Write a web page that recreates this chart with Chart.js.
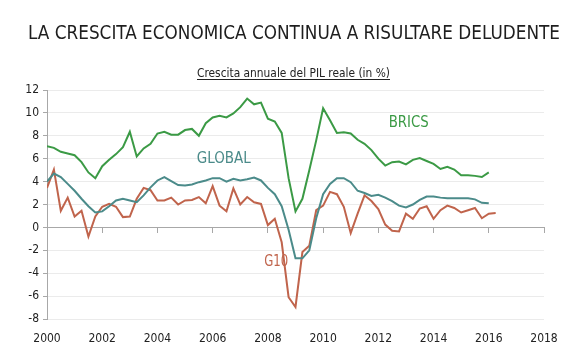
<!DOCTYPE html>
<html>
<head>
<meta charset="utf-8">
<script src="https://cdn.jsdelivr.net/npm/chart.js@4"></script>
<style>
  html, body { margin: 0; padding: 0; background: #fff; }
  #wrap { width: 585px; height: 360px; }
</style>
</head>
<body>
<div id="wrap"><canvas id="gdpChart" width="585" height="360"></canvas></div>
<script>
// Quarterly real GDP growth (%), 2000Q1 onwards
const quarters = Array.from({length: 66}, (_, i) => 2000 + i / 4);

const brics = [
    7.1, 6.95, 6.6, 6.45,
    6.3, 5.7, 4.8, 4.3,
    5.35, 5.9, 6.4, 7.0,
    8.35, 6.2, 6.9, 7.3,
    8.2, 8.35, 8.1, 8.1,
    8.5, 8.6, 8.0, 9.1,
    9.6, 9.75, 9.6, 9.95,
    10.5, 11.25, 10.75, 10.9,
    9.5, 9.25, 8.25, 4.3,
    1.4, 2.5, 5.0, 7.6,
    10.4, 9.35, 8.25, 8.3,
    8.2, 7.65, 7.3, 6.75,
    6.0, 5.4, 5.7, 5.75,
    5.5, 5.9, 6.05, 5.8,
    5.55, 5.1, 5.3, 5.05,
    4.55, 4.55, 4.5, 4.4,
    4.8
];

const global = [
    4.0, 4.7, 4.4, 3.8,
    3.2, 2.5, 1.85, 1.3,
    1.4, 1.85, 2.35, 2.5,
    2.35, 2.2, 2.8, 3.5,
    4.1, 4.4, 4.05, 3.7,
    3.65, 3.75, 3.95, 4.1,
    4.3, 4.3, 4.0, 4.25,
    4.1, 4.2, 4.35, 4.1,
    3.45, 2.9, 1.85, -0.2,
    -2.7, -2.7, -2.0, 0.8,
    2.9, 3.8, 4.3, 4.3,
    3.95, 3.2, 3.0, 2.75,
    2.85, 2.6, 2.3, 1.9,
    1.75, 2.0, 2.4, 2.7,
    2.7, 2.6, 2.55, 2.55,
    2.55, 2.55, 2.45, 2.15,
    2.1
];

const g10 = [
    3.45, 5.05, 1.45, 2.6,
    0.95, 1.45, -0.8, 0.95,
    1.8, 2.05, 1.8, 0.9,
    0.95, 2.5, 3.45, 3.25,
    2.35, 2.35, 2.6, 2.0,
    2.35, 2.4, 2.65, 2.1,
    3.6, 1.9, 1.4, 3.4,
    2.0, 2.65, 2.2, 2.05,
    0.2, 0.75, -1.3, -6.1,
    -6.95, -2.15, -1.6, 1.5,
    1.9, 3.1, 2.9, 1.8,
    -0.5, 1.2, 2.8, 2.3,
    1.6, 0.25, -0.3, -0.35,
    1.2, 0.75, 1.65, 1.85,
    0.75, 1.5, 1.9, 1.7,
    1.3, 1.5, 1.7, 0.8,
    1.2, 1.25
];

const yearTicks = [2000, 2002, 2004, 2006, 2008, 2010, 2012, 2014, 2016, 2018];

const colors = { BRICS: '#3b9a45', GLOBAL: '#4b8b8a', G10: '#c0644c' };
const family = "'DejaVu Sans Condensed', 'Liberation Sans Narrow', 'DejaVu Sans', sans-serif";

const titleText = 'LA CRESCITA ECONOMICA CONTINUA A RISULTARE DELUDENTE';
const subtitleText = 'Crescita annuale del PIL reale (in %)';

// where the series names sit, in data coordinates
const seriesLabels = [
    { text: 'BRICS', x: 2013.1, y: 9.1, width: 40 },
    { text: 'GLOBAL', x: 2006.4, y: 6.0, width: 54 },
    { text: 'G10', x: 2008.3, y: -3.05, width: 24 }
];

function toPoints(values) {
    return values.map((v, i) => ({ x: quarters[i], y: v }));
}

// draw centred text squeezed to a given width (the original uses a condensed face)
function squeezedText(ctx, text, x, y, width) {
    const w = ctx.measureText(text).width;
    const k = Math.min(1, width / w);
    ctx.save();
    ctx.translate(x, y);
    ctx.scale(k, 1);
    ctx.fillText(text, 0, 0);
    ctx.restore();
    return w * k;
}

// Titles and in-chart series names
const textPlugin = {
    id: 'textPlugin',
    afterDraw(chart) {
        const ctx = chart.ctx;
        ctx.save();
        ctx.fillStyle = '#1e1e1e';
        ctx.textAlign = 'center';
        ctx.textBaseline = 'alphabetic';
        ctx.font = '20px ' + family;
        squeezedText(ctx, titleText, 294, 39, 532);

        ctx.font = '13px ' + family;
        ctx.fillStyle = '#222';
        const w = squeezedText(ctx, subtitleText, 293.5, 77, 193);
        ctx.strokeStyle = '#222';
        ctx.lineWidth = 1;
        ctx.beginPath();
        ctx.moveTo(293.5 - w / 2, 79.5);
        ctx.lineTo(293.5 + w / 2, 79.5);
        ctx.stroke();

        const xs = chart.scales.x, ys = chart.scales.y;
        ctx.font = '16px ' + family;
        ctx.textBaseline = 'middle';
        seriesLabels.forEach(l => {
            ctx.fillStyle = colors[l.text];
            squeezedText(ctx, l.text, xs.getPixelForValue(l.x), ys.getPixelForValue(l.y), l.width);
        });
        ctx.restore();
    }
};

const tickFont = { family: family, size: 12, style: 'condensed' };

const ctx = document.getElementById('gdpChart').getContext('2d');
const chart = new Chart(ctx, {
    type: 'line',
    data: {
        datasets: [
            { label: 'BRICS', data: toPoints(brics), borderColor: colors.BRICS },
            { label: 'GLOBAL', data: toPoints(global), borderColor: colors.GLOBAL },
            { label: 'G10', data: toPoints(g10), borderColor: colors.G10 }
        ].map(d => Object.assign(d, {
            borderWidth: 2,
            pointRadius: 0,
            tension: 0,
            fill: false,
            xAxisID: 'x',
            yAxisID: 'y'
        }))
    },
    options: {
        responsive: false,
        animation: false,
        devicePixelRatio: 1,
        layout: { padding: { top: 90, left: 7, right: 41, bottom: 0 } },
        plugins: {
            legend: { display: false },
            tooltip: { enabled: false }
        },
        scales: {
            // axis line drawn on the zero value, with its tick marks
            x: {
                type: 'linear',
                position: { y: 0 },
                min: 2000,
                max: 2018,
                afterBuildTicks: s => { s.ticks = yearTicks.map(v => ({ value: v })); },
                ticks: { display: false },
                grid: { display: true, drawOnChartArea: false, drawTicks: true, tickLength: 5, color: '#a8a8a8' },
                border: { display: true, color: '#a8a8a8', width: 1 }
            },
            // year labels at the bottom
            xLabels: {
                type: 'linear',
                position: 'bottom',
                min: 2000,
                max: 2018,
                afterBuildTicks: s => { s.ticks = yearTicks.map(v => ({ value: v })); },
                afterFit: s => { s.height = 41; },
                ticks: {
                    padding: 5,
                    color: '#222',
                    font: tickFont,
                    maxRotation: 0,
                    callback: v => String(v)
                },
                grid: { display: false },
                border: { display: false }
            },
            y: {
                min: -8,
                max: 12,
                afterFit: s => { s.width = 40; },
                ticks: {
                    stepSize: 2,
                    padding: 4,
                    color: '#222',
                    font: tickFont
                },
                grid: {
                    color: c => c.tick && c.tick.value === 0 ? 'rgba(0,0,0,0)' : '#ebebeb',
                    tickColor: '#a8a8a8',
                    tickLength: 4,
                    lineWidth: 1
                },
                border: { display: true, color: '#a8a8a8' }
            }
        }
    },
    plugins: [textPlugin]
});
</script>
</body>
</html>
